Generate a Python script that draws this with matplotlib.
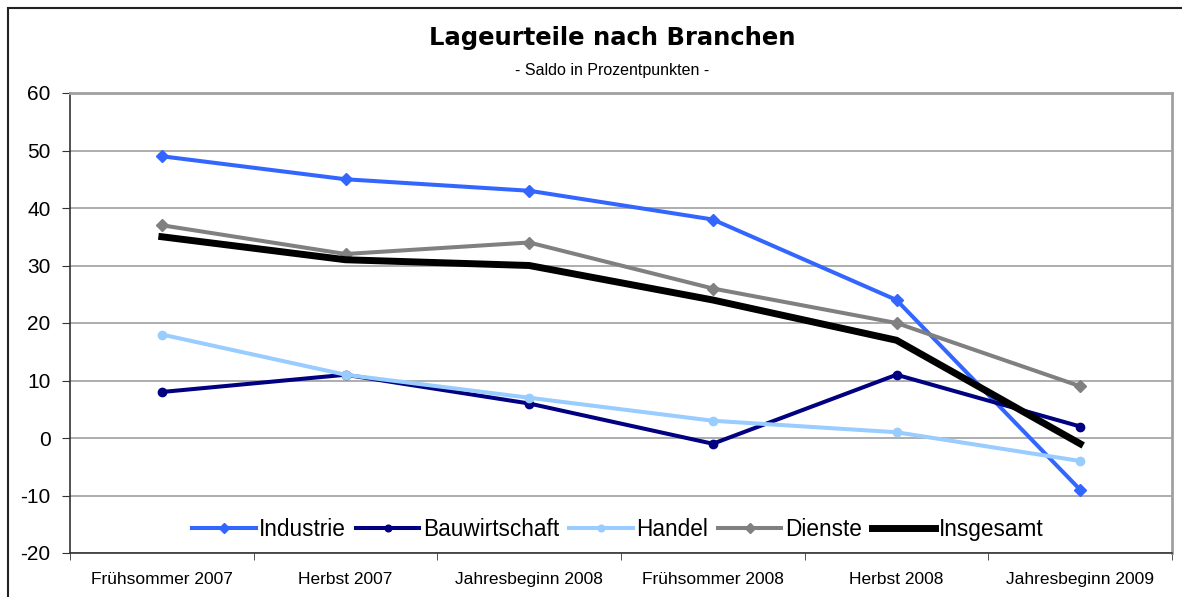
import numpy as np
import matplotlib.pyplot as plt
from matplotlib.patches import Rectangle

categories = ["Frühsommer 2007", "Herbst 2007", "Jahresbeginn 2008",
              "Frühsommer 2008", "Herbst 2008", "Jahresbeginn 2009"]
industrie = [49, 45, 43, 38, 24, -9]
bauwirtschaft = [8, 11, 6, -1, 11, 2]
handel = [18, 11, 7, 3, 1, -4]
dienste = [37, 32, 34, 26, 20, 9]
insgesamt = [35, 31, 30, 24, 17, -1]

plt.rcParams["font.family"] = ["Liberation Sans", "DejaVu Sans"]
plt.rcParams["axes.unicode_minus"] = False

fig = plt.figure(figsize=(11.82, 5.97), dpi=100)
ax = fig.add_axes([70/1182, 1-553/597, 1102/1182, 460/597])

# outer chart frame
fig.patches.append(Rectangle((8/1182, -0.01), 1.02, 1 - 8/597 + 0.01,
                             transform=fig.transFigure, fill=False,
                             edgecolor='#222222', linewidth=1.5))

x = np.arange(len(categories))
ax.plot(x, industrie, color='#3366FF', lw=2.9, marker='D', ms=6, label='Industrie')
ax.plot(x, bauwirtschaft, color='#000080', lw=2.9, marker='o', ms=6, label='Bauwirtschaft')
ax.plot(x, handel, color='#99CCFF', lw=2.9, marker='o', ms=6, label='Handel')
ax.plot(x, dienste, color='#808080', lw=2.9, marker='D', ms=6, label='Dienste')
ax.plot(x, insgesamt, color='black', lw=5, label='Insgesamt')

ax.set_xlim(-0.5, len(categories) - 0.5)
ax.set_ylim(-20, 60)
ax.set_yticks(range(-20, 61, 10))
ax.set_xticks(x)
ax.set_xticklabels(categories, family=['Liberation Sans Narrow', 'Liberation Sans'], fontsize=12.5)
ax.set_xticks(np.arange(-0.5, len(categories), 1), minor=True)
ax.tick_params(axis='x', which='major', length=0, pad=14)
ax.tick_params(axis='x', which='minor', length=5, color='#333333', direction='out')
ax.tick_params(axis='y', length=6, color='#333333', labelsize=15, pad=8)

ax.yaxis.grid(True, color='#a0a0a0', lw=1.2)
ax.set_axisbelow(True)
for s in ['left', 'bottom']:
    ax.spines[s].set_color('#333333')
    ax.spines[s].set_linewidth(1.2)
for s in ['top', 'right']:
    ax.spines[s].set_color('#a0a0a0')
    ax.spines[s].set_linewidth(2)

ax.legend(loc='lower center', bbox_to_anchor=(0.497, -0.018), ncol=5, frameon=False,
          fontsize=16.3, handlelength=2.8, handletextpad=0.15, columnspacing=0.45,
          markerscale=0.8)

fig.text(0.518, 0.936, "Lageurteile nach Branchen", ha='center', va='center',
         fontsize=17.5, family='DejaVu Sans', fontweight='bold')
fig.text(0.518, 0.882, "- Saldo in Prozentpunkten -", ha='center', va='center',
         fontsize=11.5)

fig.savefig('out.png', dpi=100)
